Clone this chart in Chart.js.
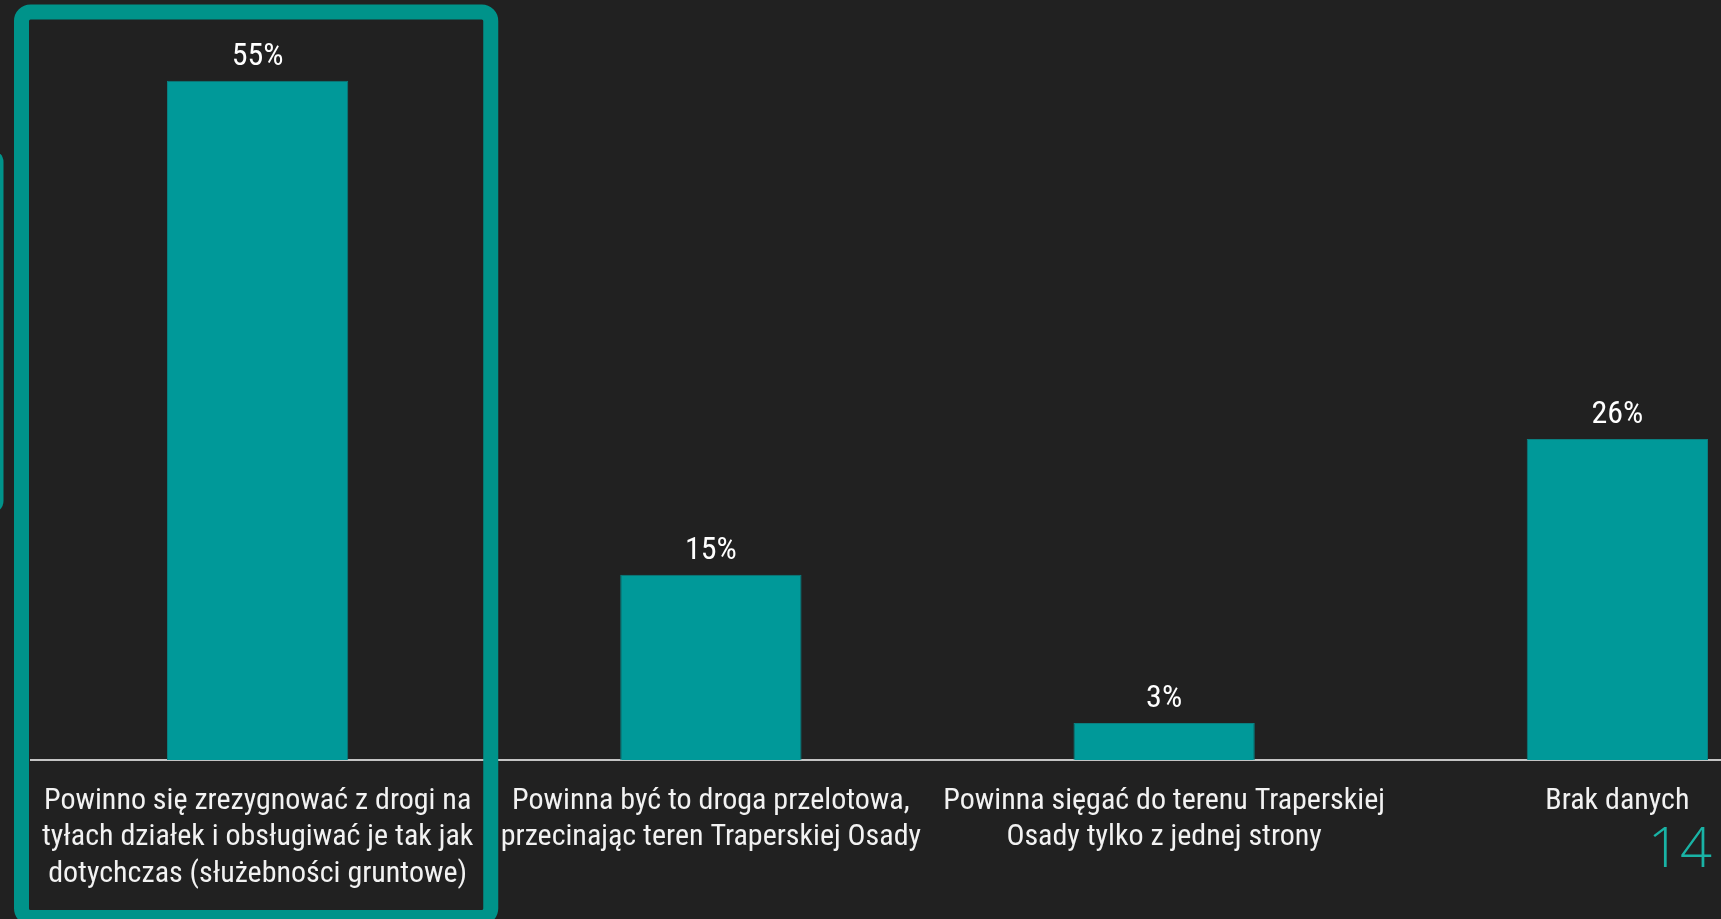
<!DOCTYPE html>
<html>
<head>
<meta charset="utf-8">
<script src="https://cdn.jsdelivr.net/npm/chart.js@4.4.1/dist/chart.umd.min.js"></script>
<style>
  html, body { margin: 0; padding: 0; background: #212121; overflow: hidden; }
  #wrap { position: relative; width: 1860px; height: 919px; }
  canvas { display: block; }
</style>
</head>
<body>
<div id="wrap"><canvas id="chart" width="1860" height="919"></canvas></div>
<script>
// Answers to the question about the access road
const categories = [
  ["Powinno się zrezygnować z drogi na", "tyłach działek i obsługiwać je tak jak", "dotychczas (służebności gruntowe)"],
  ["Powinna być to droga przelotowa,", "przecinając teren Traperskiej Osady"],
  ["Powinna sięgać do terenu Traperskiej", "Osady tylko z jednej strony"],
  ["Brak danych"]
];
const shares = [55, 15, 3, 26];
const valueLabels = ["55%", "15%", "3%", "26%"];
const pageNumber = "14";
const highlightedIndex = 0;

const TEAL = "#009999";
const FRAME = "#00938a";
const NARROW = "'Liberation Sans Narrow', 'Arial Narrow', 'Roboto Condensed', 'Liberation Sans', sans-serif";

const decorations = {
  id: "decorations",
  afterDatasetsDraw(chart) {
    const ctx = chart.ctx;
    const meta = chart.getDatasetMeta(0);
    // value labels above each bar
    ctx.save();
    ctx.fillStyle = "#ffffff";
    ctx.font = "32px " + NARROW;
    ctx.textAlign = "center";
    ctx.textBaseline = "alphabetic";
    meta.data.forEach((bar, i) => {
      ctx.fillText(valueLabels[i], bar.x, bar.y - 16);
    });
    ctx.restore();
  },
  afterDraw(chart) {
    const ctx = chart.ctx;
    const x = chart.scales.x;
    const step = x.getPixelForValue(1) - x.getPixelForValue(0);
    const cx = x.getPixelForValue(highlightedIndex);
    const lw = 15;
    const left = cx - step / 2 - 2 - lw / 2;
    const right = cx + step / 2 - 1 + lw / 2;
    const top = 12, bottom = 917.5;
    ctx.save();
    // highlight frame round the first answer
    ctx.strokeStyle = FRAME;
    ctx.lineWidth = lw;
    ctx.beginPath();
    ctx.roundRect(left, top, right - left, bottom - top, 9);
    ctx.stroke();
    // edge of the neighbouring panel
    ctx.fillStyle = FRAME;
    ctx.beginPath();
    ctx.roundRect(-24, 150, 27.5, 363, 12);
    ctx.fill();
    // page number
    ctx.fillStyle = "#19b3a5";
    ctx.font = "300 56px 'Open Sans', 'Lato', sans-serif";
    ctx.textAlign = "right";
    ctx.textBaseline = "alphabetic";
    ctx.fillText(pageNumber, 1712, 867);
    ctx.restore();
  }
};

new Chart(document.getElementById("chart"), {
  type: "bar",
  data: {
    labels: categories,
    datasets: [{
      data: shares,
      backgroundColor: TEAL,
      borderColor: "#0a7f80",
      borderWidth: 1,
      categoryPercentage: 1,
      barPercentage: 0.4
    }]
  },
  options: {
    responsive: false,
    animation: false,
    layout: { padding: { left: 31, right: 16, top: 19, bottom: 0 } },
    plugins: { legend: { display: false }, tooltip: { enabled: false } },
    scales: {
      x: {
        offset: true,
        grid: { display: false, drawTicks: false },
        border: { display: true, color: "#c4c4c4", width: 2 },
        ticks: {
          autoSkip: false,
          maxRotation: 0,
          color: "#f2f2f2",
          padding: 23,
          font: { family: NARROW, size: 30, lineHeight: 1.22 }
        },
        afterFit(scale) { scale.height = 159; }
      },
      y: {
        display: false,
        min: 0,
        max: 60
      }
    }
  },
  plugins: [decorations]
});
</script>
</body>
</html>
